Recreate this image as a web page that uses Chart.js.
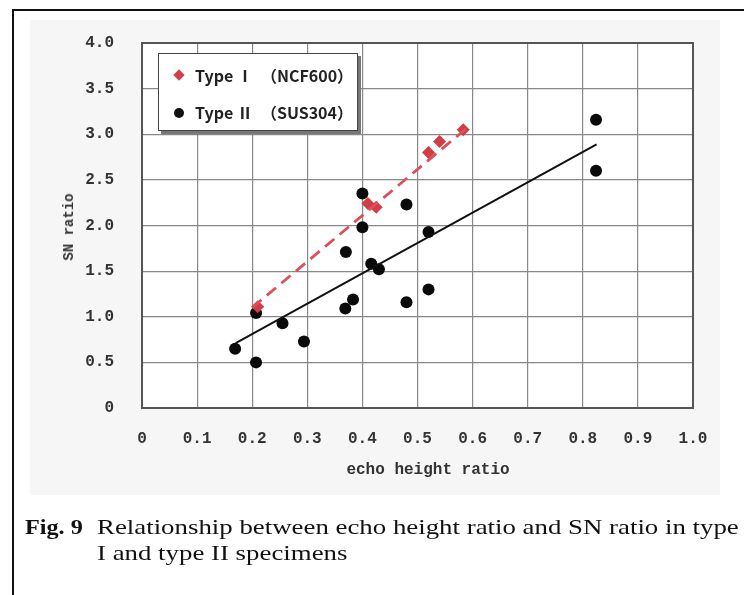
<!DOCTYPE html>
<html>
<head>
<meta charset="utf-8">
<script src="https://cdn.jsdelivr.net/npm/chart.js@4"></script>
<style>
  html, body { margin:0; padding:0; background:#fff; }
  #wrap { position:relative; width:744px; height:595px; overflow:hidden; background:#fff; }
  #panel { position:absolute; left:30px; top:20px; width:690px; height:475px; background:#f6f6f6; }
  #frameTop { position:absolute; left:12px; top:9px; width:740px; height:0; border-top:2px solid #111; }
  #frameLeft { position:absolute; left:12px; top:9px; width:0; height:600px; border-left:2px solid #111; }
  #cv { position:absolute; left:0; top:0; }
  #legend { position:absolute; left:158px; top:53px; width:198px; height:76px; background:#fff;
            border:1.5px solid #444; box-shadow:3px 3px 0 #777; font-family:"Noto Sans CJK JP", sans-serif;
            font-size:16px; font-weight:bold; color:#222; }
  .lrow { position:absolute; left:36px; white-space:pre; line-height:20px; }
  .mk { position:absolute; }
  #ytitle { position:absolute; left:69px; top:227px; transform:translate(-50%,-50%) rotate(-90deg);
            font-family:"Liberation Mono", monospace; font-size:14px; font-weight:bold; color:#333; white-space:pre; }
  #xtitle { position:absolute; left:428px; top:470px; transform:translate(-50%,-50%);
            font-family:"Liberation Mono", monospace; font-size:16px; font-weight:bold; color:#333; white-space:pre; }
  .cap { position:absolute; font-family:"Liberation Serif", "Times New Roman", serif; font-size:22px; color:#111;
         white-space:pre; transform-origin:0 0; transform:scaleX(1.22); }
</style>
</head>
<body>
<div id="wrap">
  <div id="panel"></div>
  <div id="frameTop"></div>
  <div id="frameLeft"></div>
  <canvas id="cv" width="744" height="595"></canvas>
  <div id="legend">
    <div class="mk" style="left:16px;top:17px;width:8px;height:8px;background:#d0404a;transform:rotate(45deg);"></div>
    <div class="lrow" style="top:11px;">Type Ⅰ　（NCF600）</div>
    <div class="mk" style="left:15px;top:54px;width:10px;height:10px;border-radius:50%;background:#111;"></div>
    <div class="lrow" style="top:48px;">Type Ⅱ　（SUS304）</div>
  </div>
  <div id="ytitle">SN ratio</div>
  <div id="xtitle">echo height ratio</div>
  <div class="cap" style="left:25px;top:514px;font-weight:bold;transform:scaleX(1.1);">Fig. 9</div>
  <div class="cap" style="left:97px;top:514px;">Relationship between echo height ratio and SN ratio in type</div>
  <div class="cap" style="left:97px;top:540px;">I and type II specimens</div>
</div>
<script>
// Type I (NCF600) measured points
const typeIX = [0.21, 0.41, 0.425, 0.52, 0.54, 0.583];
const typeIY = [1.11, 2.24, 2.20, 2.80, 2.92, 3.05];
// Type II (SUS304) measured points
const typeIIX = [0.40, 0.48, 0.40, 0.52, 0.37, 0.416, 0.43, 0.52, 0.383, 0.48, 0.369, 0.207, 0.255, 0.294, 0.169, 0.207, 0.824, 0.824];
const typeIIY = [2.35, 2.23, 1.98, 1.93, 1.71, 1.58, 1.52, 1.30, 1.19, 1.16, 1.09, 1.04, 0.93, 0.73, 0.65, 0.50, 3.16, 2.60];
// Trend line endpoints
const trendIX = [0.20, 0.59];
const trendIY = [1.10, 3.07];
const trendIIX = [0.17, 0.825];
const trendIIY = [0.71, 2.89];
// Tick values
const xTicks = [0, 0.1, 0.2, 0.3, 0.4, 0.5, 0.6, 0.7, 0.8, 0.9, 1.0];
const yTicks = [0, 0.5, 1.0, 1.5, 2.0, 2.5, 3.0, 3.5, 4.0];

const pts = (xs, ys) => xs.map((x, i) => ({ x: x, y: ys[i] }));
const fmt = v => (Math.abs(v) < 1e-9 ? '0' : Number(v).toFixed(1));

const plotBorder = {
  id: 'plotBorder',
  beforeDraw(chart) {
    const { ctx, chartArea: a } = chart;
    ctx.save();
    ctx.fillStyle = '#ffffff';
    ctx.fillRect(a.left, a.top, a.right - a.left, a.bottom - a.top);
    ctx.restore();
  },
  afterDraw(chart) {
    const { ctx, chartArea: a } = chart;
    ctx.save();
    ctx.strokeStyle = '#555';
    ctx.lineWidth = 2;
    ctx.strokeRect(a.left, a.top, a.right - a.left, a.bottom - a.top);
    ctx.restore();
  }
};

new Chart(document.getElementById('cv'), {
  type: 'scatter',
  data: {
    datasets: [
      { label: 'Type I trend', data: pts(trendIX, trendIY), showLine: true, borderColor: '#dc5058',
        borderWidth: 2.8, borderDash: [12, 7], pointRadius: 0, fill: false },
      { label: 'Type I (NCF600)', data: pts(typeIX, typeIY), pointStyle: 'rectRot', pointRadius: 6.5,
        backgroundColor: '#cf3d47', borderColor: '#cf3d47', borderWidth: 0 },
      { label: 'Type II trend', data: pts(trendIIX, trendIIY), showLine: true, borderColor: '#111',
        borderWidth: 2, pointRadius: 0, fill: false },
      { label: 'Type II (SUS304)', data: pts(typeIIX, typeIIY), pointStyle: 'circle', pointRadius: 6,
        backgroundColor: '#0a0a0a', borderColor: '#0a0a0a', borderWidth: 0 }
    ]
  },
  options: {
    responsive: false,
    animation: false,
    events: [],
    layout: { padding: { top: 43, right: 51, left: 0, bottom: 0 } },
    plugins: { legend: { display: false }, tooltip: { enabled: false } },
    scales: {
      x: {
        type: 'linear', min: 0, max: 1,
        afterBuildTicks: s => { s.ticks = xTicks.map(v => ({ value: v })); },
        afterFit: s => { s.height = 187; },
        grid: { color: '#888', lineWidth: 1.2, drawTicks: false },
        border: { display: false },
        ticks: { padding: 21, color: '#333', font: { family: 'Liberation Mono', size: 16, weight: 'bold' }, callback: fmt, maxRotation: 0, autoSkip: false }
      },
      y: {
        type: 'linear', min: 0, max: 4,
        afterBuildTicks: s => { s.ticks = yTicks.map(v => ({ value: v })); },
        afterFit: s => { s.width = 142; },
        grid: { color: '#888', lineWidth: 1.2, drawTicks: false },
        border: { display: false },
        ticks: { padding: 28, color: '#333', font: { family: 'Liberation Mono', size: 16, weight: 'bold' }, callback: fmt, autoSkip: false }
      }
    }
  },
  plugins: [plotBorder]
});
</script>
</body>
</html>
